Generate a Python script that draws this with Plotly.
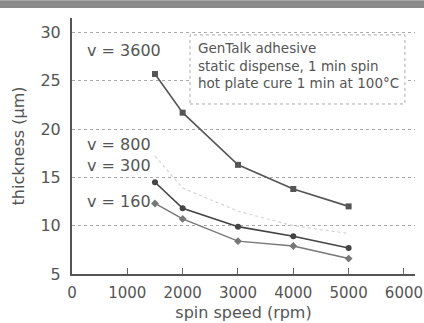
import plotly.graph_objects as go

speeds = [1500, 2000, 3000, 4000, 5000]
v3600 = [25.7, 21.7, 16.3, 13.8, 12.0]
v800 = [17.2, 13.9, 11.5, 10.0, 9.2]
v300 = [14.5, 11.8, 9.9, 8.9, 7.7]
v160 = [12.3, 10.7, 8.4, 7.9, 6.6]
x_ticks = [0, 1000, 2000, 3000, 4000, 5000, 6000]
y_ticks = [5, 10, 15, 20, 25, 30]

font = "DejaVu Sans, sans-serif"
txt_col = "#555"

fig = go.Figure()
fig.add_trace(go.Scatter(x=speeds, y=v800, mode="lines",
                         line=dict(color="#d4d4d4", width=1.2, dash="dot")))
fig.add_trace(go.Scatter(x=speeds, y=v3600, mode="lines+markers",
                         line=dict(color="#555", width=1.6),
                         marker=dict(symbol="square", size=6, color="#555")))
fig.add_trace(go.Scatter(x=speeds, y=v300, mode="lines+markers",
                         line=dict(color="#444", width=1.6),
                         marker=dict(symbol="circle", size=6, color="#444")))
fig.add_trace(go.Scatter(x=speeds, y=v160, mode="lines+markers",
                         line=dict(color="#777", width=1.4),
                         marker=dict(symbol="diamond", size=6, color="#777")))

labels = [("v = 3600", 28.1), ("v = 800", 18.4), ("v = 300", 16.2), ("v = 160", 12.5)]
for txt, yv in labels:
    fig.add_annotation(x=235, y=yv, text=txt, showarrow=False, xanchor="left",
                       font=dict(family=font, size=16, color=txt_col))

# note box (dotted border)
fig.add_shape(type="rect", x0=2133, x1=6018, y0=22.6, y1=29.75,
              fillcolor="white", line=dict(color="#aaa", width=1, dash="dot"),
              layer="above")
fig.add_annotation(x=2240, y=29.45, xanchor="left", yanchor="top", align="left",
                   text="GenTalk adhesive<br>static dispense, 1 min spin<br>hot plate cure 1 min at 100°C",
                   showarrow=False, font=dict(family=font, size=13.5, color=txt_col))

# grey scan band at the very top
fig.add_shape(type="rect", xref="paper", yref="paper", x0=-0.25, x1=1.05,
              y0=1.039, y1=1.069, fillcolor="#8a8a8a", line=dict(width=0), layer="above")

fig.update_layout(
    width=424, height=323, showlegend=False,
    margin=dict(l=72, r=9, t=18, b=49, autoexpand=False),
    paper_bgcolor="white", plot_bgcolor="white",
    font=dict(family=font, color=txt_col, size=16),
    xaxis=dict(range=[0, 6200], tickvals=x_ticks, ticks="inside", ticklen=6,
               tickcolor="#666", showline=True, linecolor="#555", linewidth=2,
               showgrid=False, zeroline=False, ticklabelstandoff=4, automargin=False,
               title=dict(text="spin speed (rpm)", standoff=6, font=dict(size=16)),
               tickfont=dict(size=15, color=txt_col)),
    yaxis=dict(range=[5, 31.5], tickvals=y_ticks, ticks="", showline=True,
               linecolor="#555", linewidth=2, showgrid=True, gridcolor="#aaa",
               griddash="dot", gridwidth=1, zeroline=False, ticklabelstandoff=6,
               automargin=False,
               title=dict(text="thickness (µm)", standoff=12, font=dict(size=16)),
               tickfont=dict(size=16, color=txt_col)),
)

fig.write_html("out.html", config={"displayModeBar": False},
               post_script="document.body.style.margin='0';")
